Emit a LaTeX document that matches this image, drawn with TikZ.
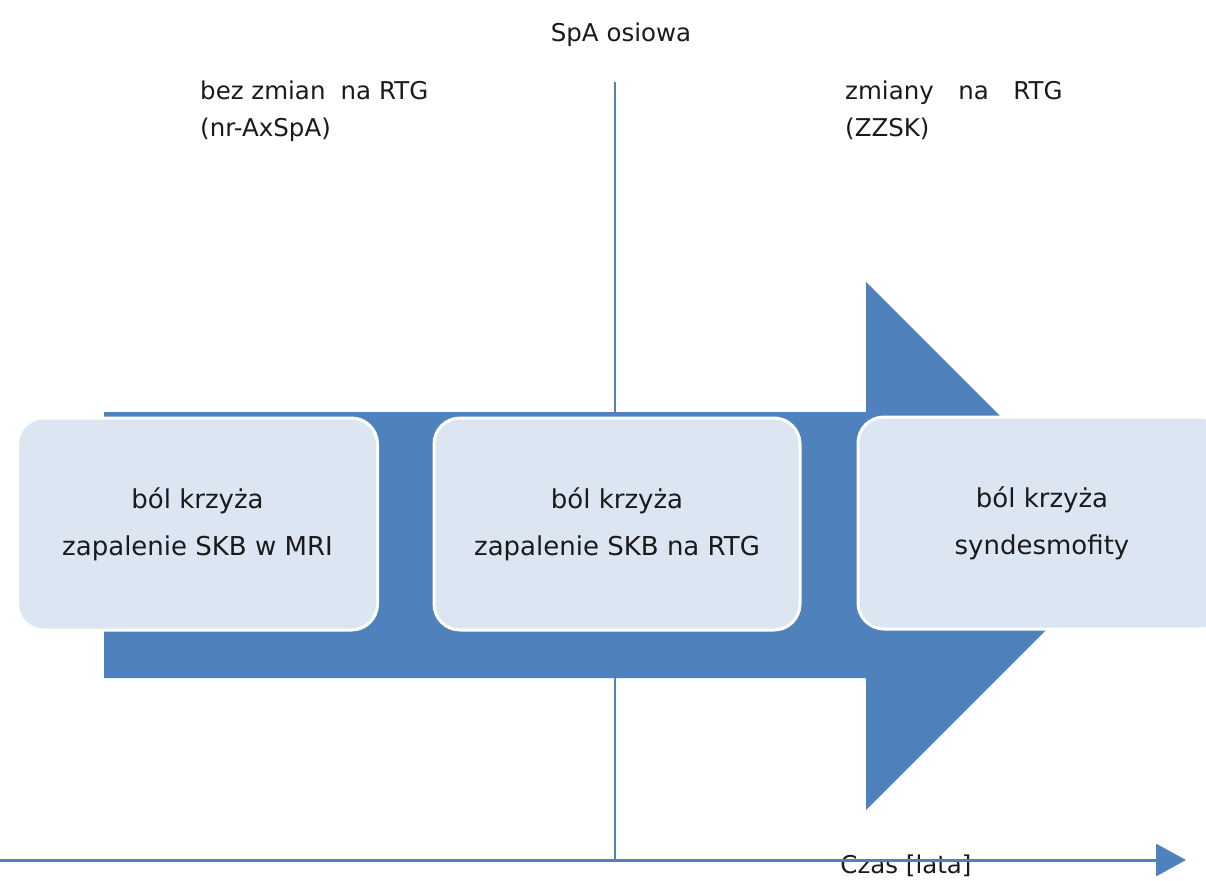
\documentclass[tikz,border=0pt]{standalone}
\usepackage{fontspec}
\setmainfont{DejaVu Sans}
\usetikzlibrary{arrows.meta}
\definecolor{arrowblue}{HTML}{4F81BD}
\definecolor{boxfill}{HTML}{DCE6F2}
\definecolor{txt}{HTML}{1A1A1A}
\begin{document}
\begin{tikzpicture}[x=1pt,y=-1pt,
  stage/.style={draw=white, line width=3pt, fill=boxfill, rounded corners=26pt,
    align=center, font=\fontsize{26}{47}\selectfont, text=txt, inner sep=0pt,
    minimum height=212pt},
  lbl/.style={font=\fontsize{24.5}{37}\selectfont, text=txt, align=left, inner sep=0pt},
  guide/.style={draw=arrowblue, line width=1.5pt}]
\useasboundingbox (0,0) rectangle (1206,880);
\clip (0,0) rectangle (1206,880);
% vertical divider
\coordinate (vtop) at (615,82);
\coordinate (vbot) at (615,860);
\draw[guide] (vtop) -- (vbot);
% big arrow
\fill[arrowblue] (104,412) -- (866,412) -- (866,282) -- (1130,546) -- (866,810) -- (866,678) -- (104,678) -- cycle;
% stage boxes
\node[stage, minimum width=360pt] (b1) at (197.5,524) {ból krzyża\\zapalenie SKB w MRI};
\node[stage, minimum width=366pt] (b2) at (617,524) {ból krzyża\\zapalenie SKB na RTG};
\node[stage, minimum width=368pt] (b3) at (1042,523) {ból krzyża\\syndesmofity};
% labels
\node[lbl, anchor=base] (title) at (621,42) {SpA osiowa};
\node[lbl, anchor=north west] (left) at (200,81) {bez zmian\hspace{0.3em} na RTG\\(nr-AxSpA)};
\node[lbl, anchor=north west] (right) at (845,81) {zmiany\hspace{1.0em}na\hspace{1.0em}RTG\\(ZZSK)};
% time axis
\node[lbl, anchor=base] (time) at (906,873) {Czas [lata]};
\coordinate (ax0) at (0,860);
\coordinate (ax1) at (1186,860);
\draw[arrowblue, line width=3pt, -{Triangle[length=30pt,width=32pt]}] (ax0) -- (ax1);
\end{tikzpicture}
\end{document}
